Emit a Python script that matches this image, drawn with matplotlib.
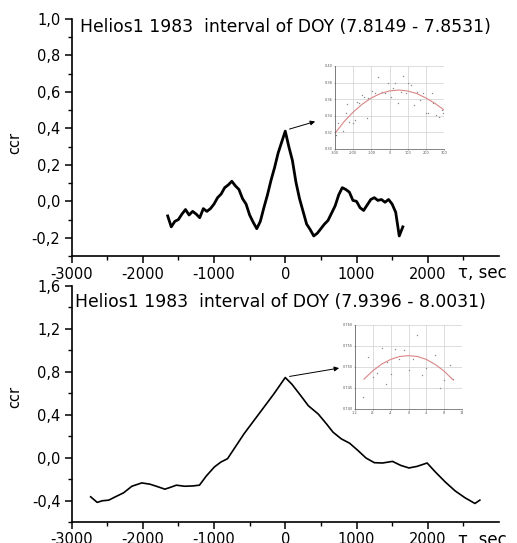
import numpy as np
import matplotlib
matplotlib.use("Agg")
import matplotlib.pyplot as plt
from matplotlib.ticker import MultipleLocator, FuncFormatter, FixedLocator

plt.rcParams['font.family'] = ['DejaVu Sans']
plt.rcParams['axes.unicode_minus'] = False

# top panel: DOY 7.8149 - 7.8531
tau_top = np.arange(-1650, 1651, 50)
ccr_top = [-0.08, -0.14, -0.11, -0.10, -0.07, -0.045, -0.075, -0.055, -0.07, -0.09,
           -0.04, -0.055, -0.04, -0.015, 0.02, 0.04, 0.075, 0.09, 0.11, 0.085,
           0.065, 0.015, -0.015, -0.075, -0.115, -0.15, -0.11, -0.035, 0.035, 0.115,
           0.185, 0.265, 0.325, 0.385, 0.30, 0.225, 0.105, 0.015, -0.055, -0.125,
           -0.155, -0.19, -0.175, -0.15, -0.125, -0.105, -0.065, -0.025, 0.035, 0.075,
           0.065, 0.05, 0.005, 0.0, -0.035, -0.05, -0.02, 0.01, 0.02, 0.005,
           0.01, -0.005, 0.01, -0.015, -0.06, -0.19, -0.14]

# top inset: zoom around the peak
ins1_x = [-294, -282, -254, -239, -232, -221, -199, -190, -177, -166, -153, -140, -126, -116,
          -98, -80, -61, -43, -25, -6, 6, 21, 30, 49, 61, 76, 91, 104, 117, 135, 149, 168,
          186, 200, 213, 232, 241, 255, 274, 287, 296]
ins1_y = [0.317, 0.331, 0.322, 0.343, 0.354, 0.333, 0.331, 0.335, 0.357, 0.355, 0.365, 0.363,
          0.337, 0.361, 0.370, 0.367, 0.387, 0.369, 0.367, 0.379, 0.363, 0.374, 0.380, 0.355,
          0.369, 0.388, 0.367, 0.380, 0.377, 0.353, 0.369, 0.359, 0.368, 0.343, 0.343, 0.367,
          0.356, 0.341, 0.339, 0.347, 0.343]
fit1_x = [-300, -250, -200, -150, -100, -50, 0, 50, 100, 150, 200, 250, 300]
fit1_y = [0.319, 0.333, 0.3445, 0.354, 0.3615, 0.3668, 0.3699, 0.371, 0.3699, 0.3668,
          0.3615, 0.355, 0.347]

# bottom panel: DOY 7.9396 - 8.0031
tau_bot = [-2731, -2639, -2569, -2477, -2384, -2269, -2153, -2014, -1898, -1782, -1690,
           -1620, -1528, -1412, -1296, -1204, -1111, -995, -903, -810, -718, -579, -440,
           -301, -162, 0, 93, 208, 324, 463, 579, 671, 787, 903, 1019, 1134, 1250, 1366,
           1505, 1620, 1736, 1852, 1991, 2106, 2245, 2384, 2523, 2662, 2731]
ccr_bot = [-0.363, -0.415, -0.40, -0.394, -0.363, -0.326, -0.265, -0.234, -0.246, -0.271,
           -0.292, -0.277, -0.255, -0.265, -0.262, -0.255, -0.172, -0.086, -0.040, -0.009,
           0.083, 0.222, 0.345, 0.468, 0.591, 0.745, 0.683, 0.585, 0.483, 0.406, 0.314,
           0.237, 0.175, 0.135, 0.068, -0.003, -0.046, -0.049, -0.034, -0.071, -0.095,
           -0.080, -0.049, -0.132, -0.225, -0.308, -0.372, -0.425, -0.394]

ins2_x = [-10.1, -9.2, -8.0, -7.1, -6.0, -5.1, -4.9, -4.0, -3.0, -2.1, -1.0, 0.0, 1.0, 2.0,
          3.0, 4.0, 6.0, 7.1, 8.0, 9.2, 9.9]
ins2_y = [0.7428, 0.7523, 0.7477, 0.7485, 0.7545, 0.7460, 0.7513, 0.7483, 0.7542, 0.7519,
          0.7541, 0.7492, 0.7519, 0.7575, 0.7481, 0.7497, 0.7529, 0.7451, 0.7470, 0.7505,
          0.7471]
fit2_x = [-10, -8, -6, -4, -2, 0, 2, 4, 6, 8, 10]
fit2_y = [0.7471, 0.7491, 0.7507, 0.7518, 0.7525, 0.7527, 0.7525, 0.7518, 0.7506, 0.7490, 0.7469]

titles = ["Helios1 1983  interval of DOY (7.8149 - 7.8531)",
          "Helios1 1983  interval of DOY (7.9396 - 8.0031)"]

fig = plt.figure(figsize=(5.17, 5.43), dpi=100)
ax1 = fig.add_axes([0.1383, 0.5285, 0.8269, 0.4365])
ax2 = fig.add_axes([0.1383, 0.0381, 0.8269, 0.4361])

comma = FuncFormatter(lambda v, p: ('%.1f' % (round(v, 1) + 0.0)).replace('.', ','))

def style_main(ax, ylim, ymaj, ymin, xpad):
    ax.set_xlim(-3000, 3000)
    ax.set_ylim(*ylim)
    for s in ['top', 'right']:
        ax.spines[s].set_visible(False)
    ax.spines['left'].set_linewidth(1.2)
    ax.spines['bottom'].set_linewidth(1.2)
    ax.xaxis.set_major_locator(FixedLocator([-3000, -2000, -1000, 0, 1000, 2000]))
    ax.xaxis.set_minor_locator(FixedLocator([-2500, -1500, -500, 500, 1500, 2500]))
    ax.yaxis.set_major_locator(MultipleLocator(ymaj))
    ax.yaxis.set_minor_locator(MultipleLocator(ymin))
    ax.yaxis.set_major_formatter(comma)
    ax.tick_params(which='major', length=5, width=1.1, labelsize=10.5, pad=3)
    ax.tick_params(axis='x', which='major', pad=xpad)
    ax.tick_params(which='minor', length=3, width=1.0)
    ax.text(2420, -0.035, "\u03c4, sec", transform=ax.get_xaxis_transform(),
            ha='left', va='top', fontsize=12, clip_on=False)

style_main(ax1, (-0.3, 1.0), 0.2, 0.1, 3)
ax1.set_yticks([-0.2, 0.0, 0.2, 0.4, 0.6, 0.8, 1.0])
style_main(ax2, (-0.6, 1.6), 0.4, 0.2, 2)
ax2.set_yticks([-0.4, 0.0, 0.4, 0.8, 1.2, 1.6])

ax1.plot(tau_top, ccr_top, color='black', lw=2.0)
ax2.plot(tau_bot, ccr_bot, color='black', lw=1.2)

ax1.text(0.020, 0.966, titles[0], transform=ax1.transAxes, fontsize=12.4, va='center', ha='left')
ax2.text(0.008, 0.929, titles[1], transform=ax2.transAxes, fontsize=12.4, va='center', ha='left')

fig.text(15 / 517, 1 - 143 / 543, "ccr", rotation=90, fontsize=10.5, ha='center', va='center')
fig.text(15 / 517, 1 - 397 / 543, "ccr", rotation=90, fontsize=10.5, ha='center', va='center')

# arrows from the peak to the insets
ax1.annotate("", xy=(457, 0.442), xytext=(22, 0.392),
             arrowprops=dict(arrowstyle='-|>', lw=0.7, color='black', mutation_scale=7))
ax2.annotate("", xy=(794, 0.837), xytext=(22, 0.751),
             arrowprops=dict(arrowstyle='-|>', lw=0.7, color='black', mutation_scale=7))

def style_inset(ax, xt, yt, fmt):
    for s in ['top', 'right']:
        ax.spines[s].set_visible(False)
    for s in ['left', 'bottom']:
        ax.spines[s].set_linewidth(0.5)
        ax.spines[s].set_color('#555555')
    ax.set_xticks(xt)
    ax.set_yticks(yt)
    ax.set_xlim(xt[0], xt[-1])
    ax.set_ylim(yt[0], yt[-1])
    ax.set_xticklabels([str(v) for v in xt])
    ax.set_yticklabels([fmt % v for v in yt])
    ax.tick_params(labelsize=2.5, length=1, width=0.4, pad=0.8, colors='#555555')
    ax.grid(True, color='#cfcfcf', lw=0.5)
    ax.set_axisbelow(True)
    ax.patch.set_alpha(0)

ins1 = fig.add_axes([0.648, 0.7256, 0.2108, 0.1529])
style_inset(ins1, [-300, -200, -100, 0, 100, 200, 300], [0.30, 0.32, 0.34, 0.36, 0.38, 0.40], '%.2f')
ins1.scatter(ins1_x, ins1_y, s=1.0, color='#888888', lw=0)
ins1.plot(fit1_x, fit1_y, color='#d98585', lw=0.8)

ins2 = fig.add_axes([0.6867, 0.2468, 0.207, 0.1547])
style_inset(ins2, [-12, -8, -4, 0, 4, 8, 12], [0.740, 0.745, 0.750, 0.755, 0.760], '%.3f')
ins2.scatter(ins2_x, ins2_y, s=1.0, color='#888888', lw=0)
ins2.plot(fit2_x, fit2_y, color='#d98585', lw=0.8)

fig.savefig("out.png", dpi=100)
